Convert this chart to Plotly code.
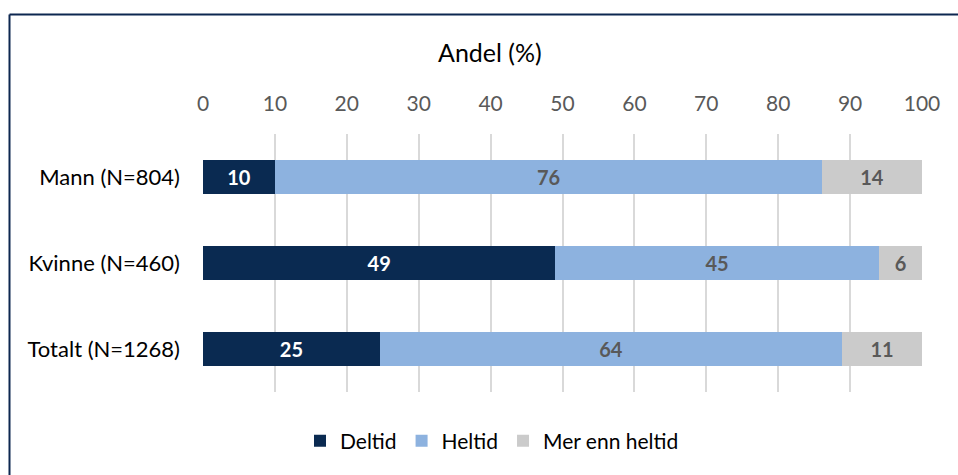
import plotly.graph_objects as go

categories = ["Mann (N=804)", "Kvinne (N=460)", "Totalt (N=1268)"]
deltid = [10.0, 49.0, 24.6]
heltid = [76.1, 45.0, 64.3]
mer_enn = [13.9, 6.0, 11.1]
tick_vals = [0, 10, 20, 30, 40, 50, 60, 70, 80, 90, 100]

W, H = 958, 475
L, R, T, B = 203, 36, 134, 83
pw, ph = W - L - R, H - T - B

def px_x(p):
    return (p - L) / pw

def px_y(p):
    return (H - B - p) / ph

FONT = "Lato, Carlito, Calibri, sans-serif"

fig = go.Figure()
series = [
    ("Deltid", deltid, "#0a2a51", "white"),
    ("Heltid", heltid, "#8db2df", "#595959"),
    ("Mer enn heltid", mer_enn, "#cbcbcb", "#595959"),
]
for name, vals, col, tcol in series:
    fig.add_trace(go.Bar(
        y=categories, x=vals, name=name, orientation="h",
        marker=dict(color=col, line=dict(width=0)),
        texttemplate="%{x:.0f}", textposition="inside",
        insidetextanchor="middle",
        textfont=dict(color=tcol, size=20, family=FONT, weight="bold"),
        width=0.4,
    ))

fig.update_layout(
    width=W, height=H, barmode="stack",
    margin=dict(l=L, r=R, t=T, b=B),
    plot_bgcolor="white", paper_bgcolor="white",
    font=dict(family=FONT, size=21, color="black"),
    xaxis=dict(range=[0, 100], side="top", tickvals=tick_vals,
               showgrid=True, gridcolor="#d9d9d9", gridwidth=1.5,
               zeroline=False, showline=False, ticks="",
               tickfont=dict(size=21, color="#595959"),
               ticklabelstandoff=18, fixedrange=True),
    yaxis=dict(categoryorder="array", categoryarray=categories[::-1],
               showgrid=False, showline=False, ticks="",
               tickfont=dict(size=22, color="black"),
               ticklabelstandoff=22, range=[-0.5, 2.5]),
    legend=dict(orientation="h", x=px_x(492), xanchor="center",
                y=px_y(441), yanchor="middle",
                font=dict(size=21, color="black"),
                itemwidth=30, traceorder="normal"),
    showlegend=True,
)

fig.add_annotation(text="Andel (%)", x=px_x(490), y=px_y(52),
                   xref="paper", yref="paper", showarrow=False,
                   xanchor="center", yanchor="middle",
                   font=dict(size=25, color="black", family=FONT))

border = "#0d2750"
fig.add_shape(type="line", xref="paper", yref="paper",
              x0=px_x(9.5), x1=px_x(970), y0=px_y(14.5), y1=px_y(14.5),
              line=dict(color=border, width=2))
fig.add_shape(type="line", xref="paper", yref="paper",
              x0=px_x(9.5), x1=px_x(9.5), y0=px_y(14.5), y1=px_y(480),
              line=dict(color=border, width=2))

fig.write_html("out.html", config={"displayModeBar": False})

with open("out.html", "r", encoding="utf-8") as f:
    html = f.read()
html = html.replace("<head>", "<head><style>html,body{margin:0;padding:0;overflow:hidden;}</style>", 1)
with open("out.html", "w", encoding="utf-8") as f:
    f.write(html)
